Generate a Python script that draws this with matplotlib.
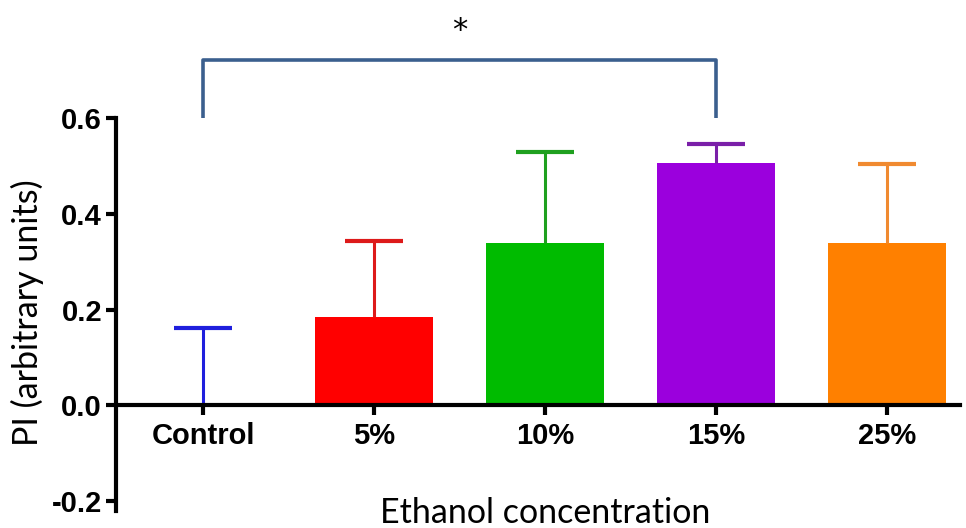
import matplotlib
matplotlib.use('Agg')
import matplotlib.pyplot as plt
import numpy as np

groups = ['Control', '5%', '10%', '15%', '25%']
means = [0.0, 0.184, 0.339, 0.506, 0.339]
errs = [0.161, 0.159, 0.190, 0.040, 0.165]
bar_colors = ['#1f1fdd', '#ff0000', '#00bb00', '#9b00dd', '#ff8000']
err_colors = ['#1f1fdd', '#dd1a1a', '#1fa01f', '#7a1fa8', '#f08a30']
yticks = [-0.2, 0.0, 0.2, 0.4, 0.6]

tick_font = 'Liberation Sans'
label_font = 'Lato'

fig = plt.figure(figsize=(9.66, 5.28), dpi=100)
ax = fig.add_axes([0.120, 0.033, 0.874, 0.7435])

x = np.arange(len(groups))
means = np.array(means)
errs = np.array(errs)
ax.bar(x, means, width=0.69, color=bar_colors, zorder=2)

# upper-only SEM bars, drawn by hand so no cap sits on the bar top
cap = 0.17
tops = means + errs
ax.vlines(x, means, tops, colors=err_colors, lw=2.2, zorder=3)
ax.hlines(tops, x - cap, x + cap, colors=err_colors, lw=3.0, zorder=3)

ax.set_xlim(-0.51, 4.43)
ax.set_ylim(-0.22, 0.6)

ax.spines['top'].set_visible(False)
ax.spines['right'].set_visible(False)
ax.spines['bottom'].set_position(('data', 0))
ax.spines['left'].set_bounds(-0.22, 0.6)
for s in ['left', 'bottom']:
    ax.spines[s].set_linewidth(3.0)
    ax.spines[s].set_zorder(4)

ax.set_yticks(yticks)
ax.set_yticklabels([f'{v:.1f}' for v in yticks], fontfamily=tick_font,
                   fontweight='bold', fontsize=21)
ax.set_xticks(x)
ax.set_xticklabels(groups, fontfamily=tick_font, fontweight='bold', fontsize=21)
ax.tick_params(axis='both', width=3.0, length=7, direction='out')
ax.tick_params(axis='x', pad=5)
ax.tick_params(axis='y', pad=3)

ax.set_ylabel('PI (arbitrary units)', fontfamily=label_font, fontsize=24.5)
ax.yaxis.set_label_coords(-0.085, 0.505)
ax.text(2.0, -0.225, 'Ethanol concentration', fontfamily=label_font,
        fontsize=24.5, ha='center', va='center')

# significance bracket between Control and 15%
bk_top = 0.721
bk_low = 0.6
ax.plot([0, 0, 3, 3], [bk_low, bk_top, bk_top, bk_low], color='#3b5f8e',
        lw=2.6, clip_on=False, solid_capstyle='butt')
ax.text(1.5, 0.783, '*', ha='center', va='center', fontsize=22,
        fontfamily='DejaVu Sans', clip_on=False)

fig.savefig('out.png', dpi=100)
